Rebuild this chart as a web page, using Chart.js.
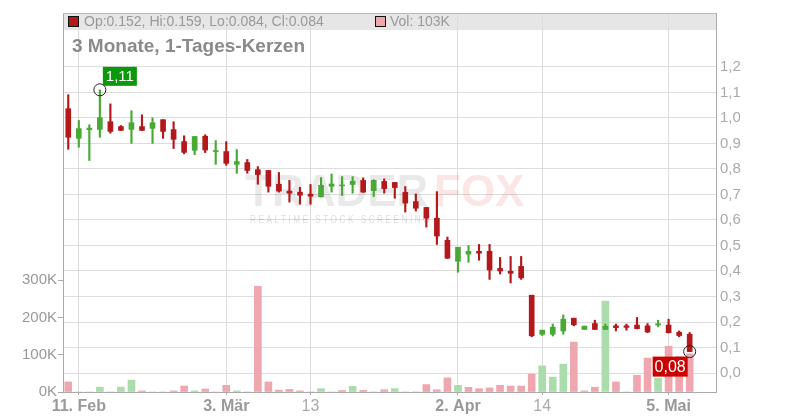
<!DOCTYPE html>
<html>
<head>
<meta charset="utf-8">
<script src="https://cdn.jsdelivr.net/npm/chart.js@4.4.1/dist/chart.umd.min.js"></script>
<style>
  html, body { margin: 0; padding: 0; background: #fff; }
  #wrap { width: 800px; height: 420px; }
</style>
</head>
<body>
<div id="wrap"><canvas id="chart" width="800" height="420"></canvas></div>
<script>
// trading days, last two are empty slots on the right
const dates = [
  '2025-02-10','2025-02-11','2025-02-12','2025-02-13','2025-02-14','2025-02-17','2025-02-18','2025-02-19','2025-02-20','2025-02-21',
  '2025-02-24','2025-02-25','2025-02-26','2025-02-27','2025-02-28','2025-03-03','2025-03-04','2025-03-05','2025-03-06','2025-03-07',
  '2025-03-10','2025-03-11','2025-03-12','2025-03-13','2025-03-14','2025-03-17','2025-03-18','2025-03-19','2025-03-20','2025-03-21',
  '2025-03-24','2025-03-25','2025-03-26','2025-03-27','2025-03-28','2025-03-31','2025-04-01','2025-04-02','2025-04-03','2025-04-04',
  '2025-04-07','2025-04-08','2025-04-09','2025-04-10','2025-04-11','2025-04-14','2025-04-15','2025-04-16','2025-04-17','2025-04-22',
  '2025-04-23','2025-04-24','2025-04-25','2025-04-28','2025-04-29','2025-04-30','2025-05-02','2025-05-05','2025-05-06','2025-05-07',
  '2025-05-08','2025-05-09'
];
const opens = [
  1.036,0.920,0.954,0.955,0.985,0.966,0.955,0.966,0.959,0.993,
  0.954,0.907,0.873,0.928,0.868,0.868,0.818,0.825,0.797,0.794,
  0.740,0.713,0.709,0.701,0.691,0.732,0.734,0.739,0.755,0.715,
  0.751,0.747,0.708,0.672,0.649,0.607,0.520,0.438,0.466,0.477,
  0.477,0.410,0.399,0.418,0.305,0.152,0.152,0.165,0.215,0.171,
  0.194,0.171,0.185,0.185,0.188,0.185,0.188,0.188,0.160,0.152
];
const highs = [
  1.091,0.990,0.973,1.110,1.055,0.970,1.028,1.012,1.000,0.993,
  0.985,0.930,0.927,0.934,0.911,0.907,0.876,0.837,0.809,0.794,
  0.786,0.755,0.728,0.739,0.766,0.780,0.770,0.770,0.765,0.758,
  0.761,0.747,0.731,0.702,0.650,0.711,0.533,0.493,0.500,0.504,
  0.504,0.453,0.457,0.457,0.305,0.168,0.192,0.228,0.215,0.184,
  0.207,0.192,0.192,0.192,0.218,0.194,0.207,0.211,0.165,0.159
];
const lows = [
  0.877,0.885,0.833,0.924,0.940,0.950,0.900,0.950,0.900,0.920,
  0.880,0.859,0.856,0.864,0.818,0.814,0.783,0.783,0.740,0.709,
  0.709,0.670,0.662,0.662,0.690,0.709,0.696,0.705,0.708,0.692,
  0.705,0.685,0.631,0.635,0.572,0.504,0.449,0.395,0.434,0.442,
  0.367,0.388,0.353,0.367,0.142,0.147,0.145,0.152,0.185,0.171,
  0.171,0.171,0.165,0.168,0.173,0.158,0.181,0.157,0.142,0.084
];
const closes = [
  0.924,0.958,0.960,1.001,0.947,0.951,0.981,0.951,0.981,0.947,
  0.916,0.865,0.927,0.874,0.872,0.822,0.829,0.794,0.778,0.732,
  0.713,0.705,0.697,0.693,0.736,0.741,0.737,0.752,0.709,0.755,
  0.723,0.727,0.666,0.646,0.607,0.537,0.450,0.493,0.477,0.470,
  0.404,0.400,0.391,0.373,0.146,0.168,0.180,0.211,0.189,0.184,
  0.171,0.183,0.178,0.179,0.174,0.161,0.193,0.158,0.147,0.084
];
const volumes = [
  27000,0,0,13000,0,13000,32000,3000,0,0,
  3000,16000,3000,8000,0,18000,3000,0,284000,27000,
  5000,7000,3000,0,9000,0,4000,15000,4500,0,
  6000,9000,0,0,20000,6000,38000,18000,12500,9000,
  11000,18000,16000,16000,48000,70000,40000,75000,134000,3000,
  13000,244000,27000,0,45000,91000,37000,123000,95000,103000
];
const priceTicks = [0,0.1,0.2,0.3,0.4,0.5,0.6,0.7,0.8,0.9,1.0,1.1,1.2];
const volumeTicks = [0,100000,200000,300000];
const dateTicks = {
  '2025-02-11': '11. Feb', '2025-03-03': '3. Mär', '2025-03-13': '13',
  '2025-04-02': '2. Apr', '2025-04-14': '14', '2025-05-05': '5. Mai'
};

const RED = '#b3191b', GREEN = '#48a935';
const VOL_RED = '#efa7af', VOL_GREEN = '#abdcab';
const FONT = 'Liberation Sans, Arial, sans-serif';

const candleColors = closes.map((c, i) => c < opens[i] ? RED : GREEN);
const volColors = closes.map((c, i) => i > 0 && c >= closes[i - 1] ? VOL_GREEN : VOL_RED);
const wicks = dates.map((d, i) => highs[i] == null ? null : [lows[i], highs[i]]);
const bodies = dates.map((d, i) => opens[i] == null ? null : [opens[i], closes[i]]);
const vols = dates.map((d, i) => volumes[i] == null ? null : volumes[i]);

const hiIdx = highs.indexOf(Math.max(...highs));
const lastIdx = closes.length - 1;
const fmt = v => v.toFixed(2).replace('.', ',');

const extras = {
  id: 'extras',
  beforeDraw(chart) {
    const { ctx, chartArea: a } = chart;
    ctx.save();
    ctx.fillStyle = '#e6e6e6';
    ctx.fillRect(a.left, a.top, a.right - a.left, 17);
    ctx.restore();
  },
  beforeDatasetsDraw(chart) {
    const { ctx, chartArea: a } = chart;
    ctx.save();
    // watermark
    ctx.textBaseline = 'alphabetic';
    ctx.font = 'bold 44px ' + FONT;
    ctx.fillStyle = 'rgba(0,0,0,0.085)';
    ctx.fillText('TRADER', 245, 206, 186);
    ctx.fillStyle = 'rgba(225,70,70,0.14)';
    ctx.fillText('FOX', 434, 206, 102);
    ctx.font = '10px ' + FONT;
    ctx.fillStyle = 'rgba(0,0,0,0.14)';
    ctx.letterSpacing = '3px';
    ctx.fillText('REALTIME STOCK SCREENING', 250, 223, 182);
    ctx.letterSpacing = '0px';

    // top line of the frame
    ctx.strokeStyle = '#bbbbbb';
    ctx.lineWidth = 1;
    ctx.beginPath();
    ctx.moveTo(a.left, a.top + 0.5);
    ctx.lineTo(a.right, a.top + 0.5);
    ctx.stroke();

    // legend strip
    ctx.textBaseline = 'middle';
    ctx.font = '14px ' + FONT;
    ctx.fillStyle = RED;
    ctx.fillRect(68.5, 16.5, 10, 10);
    ctx.strokeStyle = '#111';
    ctx.strokeRect(68.5, 16.5, 10, 10);
    ctx.fillStyle = '#999';
    const L = lastIdx;
    ctx.fillText('Op:' + opens[L].toFixed(3) + ', Hi:' + highs[L].toFixed(3) +
      ', Lo:' + lows[L].toFixed(3) + ', Cl:' + closes[L].toFixed(3), 84, 22);
    ctx.fillStyle = VOL_RED;
    ctx.fillRect(375.5, 16.5, 10, 10);
    ctx.strokeRect(375.5, 16.5, 10, 10);
    ctx.fillStyle = '#999';
    ctx.fillText('Vol: ' + Math.round(volumes[L] / 1000) + 'K', 390, 22);

    // title
    ctx.font = 'bold 19px ' + FONT;
    ctx.fillStyle = '#8a8a8a';
    ctx.fillText('3 Monate, 1-Tages-Kerzen', 72, 47);
    ctx.restore();
  },
  afterDatasetsDraw(chart) {
    const { ctx } = chart;
    const x = chart.scales.x, y = chart.scales.yP;
    ctx.save();
    ctx.lineWidth = 1;
    ctx.strokeStyle = '#222';
    ctx.textBaseline = 'middle';
    ctx.textAlign = 'center';

    // highest high
    let px = x.getPixelForValue(hiIdx), py = y.getPixelForValue(highs[hiIdx]);
    ctx.beginPath(); ctx.arc(px, py, 6, 0, Math.PI * 2); ctx.stroke();
    ctx.fillStyle = '#0b980b';
    ctx.fillRect(px + 3, py - 23, 34, 19);
    ctx.fillStyle = '#fff';
    ctx.font = '15px ' + FONT;
    ctx.fillText(fmt(highs[hiIdx]), px + 20, py - 13);

    // last close
    px = x.getPixelForValue(lastIdx); py = y.getPixelForValue(closes[lastIdx]);
    ctx.beginPath(); ctx.arc(px, py, 6, 0, Math.PI * 2); ctx.stroke();
    ctx.fillStyle = '#cc0000';
    ctx.fillRect(px - 37, py + 5, 35, 20);
    ctx.fillStyle = '#fff';
    ctx.font = '16px ' + FONT;
    ctx.fillText(fmt(closes[lastIdx]), px - 19.5, py + 15.5);
    ctx.restore();
  }
};

new Chart(document.getElementById('chart'), {
  type: 'bar',
  data: {
    labels: dates,
    datasets: [
      { label: 'Vol', data: vols, yAxisID: 'yV', backgroundColor: volColors,
        barThickness: 7, grouped: false, order: 3 },
      { label: 'Wick', data: wicks, yAxisID: 'yP', backgroundColor: candleColors,
        barThickness: 1.5, grouped: false, order: 2 },
      { label: 'Body', data: bodies, yAxisID: 'yP', backgroundColor: candleColors,
        barThickness: 5, grouped: false, order: 1 }
    ]
  },
  options: {
    responsive: false,
    animation: false,
    devicePixelRatio: 1,
    layout: { padding: { top: 12, left: 0, right: 0, bottom: 0 } },
    plugins: { legend: { display: false }, tooltip: { enabled: false } },
    scales: {
      x: {
        type: 'category',
        offset: true,
        afterBuildTicks: s => { s.ticks = s.ticks.filter(t => dateTicks[dates[t.value]]); },
        afterFit: s => { s.height = 28; },
        grid: { offset: false, color: '#dddddd', tickLength: 3, tickColor: '#aaa' },
        border: { color: '#aaaaaa' },
        ticks: {
          autoSkip: false, maxRotation: 0, padding: 2,
          callback: v => dateTicks[dates[v]],
          font: c => ({ family: 'Liberation Sans Narrow, ' + FONT, size: 16,
            weight: c.tick && /\./.test(c.tick.label) ? 'bold' : 'normal' }),
          color: c => c.tick && /\./.test(c.tick.label) ? '#999' : '#aaa'
        }
      },
      yV: {
        position: 'left',
        min: 0, max: 1018000,
        afterBuildTicks: s => { s.ticks = volumeTicks.map(v => ({ value: v })); },
        afterFit: s => { s.width = 63; },
        grid: { drawOnChartArea: false, tickLength: 5, color: '#aaa' },
        border: { color: '#aaaaaa' },
        ticks: { callback: v => (v / 1000) + 'K', color: '#999', padding: 1,
          font: { family: FONT, size: 15 } }
      },
      yP: {
        position: 'right',
        min: -0.0743, max: 1.4111,
        afterBuildTicks: s => { s.ticks = priceTicks.map(v => ({ value: v })); },
        afterFit: s => { s.width = 84; },
        grid: { color: '#dddddd', drawTicks: false },
        border: { color: '#aaaaaa' },
        ticks: { callback: v => v.toFixed(1).replace('.', ','), color: '#aaa', padding: 4,
          font: { family: FONT, size: 15 } }
      }
    }
  },
  plugins: [extras]
});
</script>
</body>
</html>
